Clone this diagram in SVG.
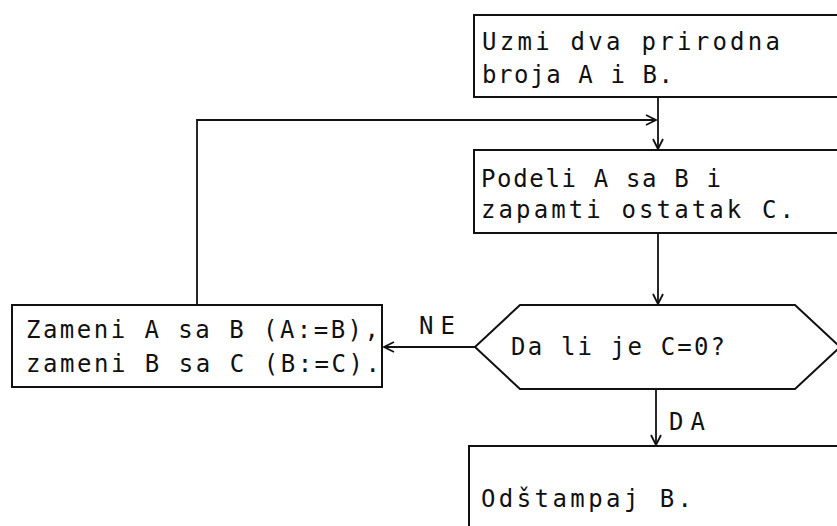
<svg xmlns="http://www.w3.org/2000/svg" width="837" height="526" viewBox="0 0 837 526">
  <style>
    .box { fill: #fff; stroke: #111; stroke-width: 2; }
    .edge { fill: none; stroke: #111; stroke-width: 1.8; }
    .t { font-family: "DejaVu Sans Mono", "Liberation Mono", monospace; font-size: 24px; fill: #111; }
  </style>
  <defs>
    <marker id="arr" viewBox="0 0 12 12" refX="11" refY="6" markerWidth="12" markerHeight="12" markerUnits="userSpaceOnUse" orient="auto">
      <polyline points="1,1 11,6 1,11" fill="none" stroke="#111" stroke-width="1.8"/>
    </marker>
  </defs>
  <rect width="837" height="526" fill="#fff"/>

  <g id="connectors">
    <line class="edge" x1="658" y1="97" x2="658" y2="149" marker-end="url(#arr)"/>
    <polyline class="edge" points="197,305 197,120 656,120" marker-end="url(#arr)"/>
    <line class="edge" x1="658" y1="233" x2="658" y2="304" marker-end="url(#arr)"/>
    <line class="edge" x1="475" y1="347" x2="384" y2="347" marker-end="url(#arr)"/>
    <line class="edge" x1="656" y1="389" x2="656" y2="445" marker-end="url(#arr)"/>
    <text class="t" x="419" y="334" textLength="36">NE</text>
    <text class="t" x="669" y="430" textLength="36">DA</text>
  </g>

  <g id="start">
    <rect class="box" x="474" y="15" width="380" height="82"/>
    <text class="t" x="482" y="50" textLength="298">Uzmi dva prirodna</text>
    <text class="t" x="482" y="83" textLength="191">broja A i B.</text>
  </g>

  <g id="divide">
    <rect class="box" x="474" y="150" width="380" height="83"/>
    <text class="t" x="481" y="187" textLength="240">Podeli A sa B i</text>
    <text class="t" x="481" y="218" textLength="313">zapamti ostatak C.</text>
  </g>

  <g id="decision">
    <polygon class="box" points="475,347 520,305 795,305 840,347 795,389 520,389"/>
    <text class="t" x="511" y="355" textLength="214">Da li je C=0?</text>
  </g>

  <g id="swap">
    <rect class="box" x="12" y="305" width="370" height="82"/>
    <text class="t" x="26" y="338" textLength="353">Zameni A sa B (A:=B),</text>
    <text class="t" x="26" y="372" textLength="354">zameni B sa C (B:=C).</text>
  </g>

  <g id="print">
    <rect class="box" x="469" y="446" width="390" height="100"/>
    <text class="t" x="481" y="507" textLength="211">Odštampaj B.</text>
  </g>
</svg>
